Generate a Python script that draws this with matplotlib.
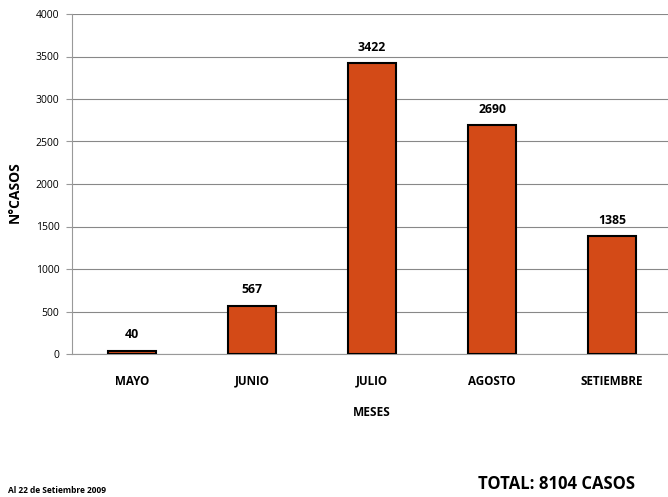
import matplotlib.pyplot as plt

months = ["MAYO", "JUNIO", "JULIO", "AGOSTO", "SETIEMBRE"]
cases = [40, 567, 3422, 2690, 1385]
yticks = [0, 500, 1000, 1500, 2000, 2500, 3000, 3500, 4000]

plt.rcParams['font.family'] = ['Open Sans', 'DejaVu Sans']

fig = plt.figure(figsize=(6.68, 4.97), dpi=100)
ax = fig.add_axes([72 / 668, 1 - 354 / 497, 600 / 668, 340 / 497])

x = range(len(months))
ax.bar(x, cases, width=0.4, color='#D34A17', edgecolor='black', linewidth=1.5, zorder=3)
for i, v in zip(x, cases):
    ax.text(i, v + 110, str(v), ha='center', va='bottom', fontsize=8.8, fontweight='bold')

ax.set_xlim(-0.5, 4.5)
ax.set_ylim(0, 4000)
ax.set_yticks(yticks)
ax.set_yticklabels([str(t) for t in yticks], fontsize=7.5)
ax.set_xticks(list(x))
ax.set_xticklabels(months, fontsize=8.4, fontweight='bold')
ax.tick_params(axis='x', length=0, pad=15)
ax.tick_params(axis='y', length=4, color='#999999', pad=5)
ax.grid(axis='y', color='#888888', linewidth=0.8, zorder=0)
for s in ['top', 'right']:
    ax.spines[s].set_visible(False)
ax.spines['left'].set_color('#999999')
ax.spines['bottom'].set_color('#999999')

ax.set_xlabel("MESES", fontsize=8.6, fontweight='bold', labelpad=13)
fig.text(15 / 668, 1 - 192 / 497, "N°CASOS", rotation=90, ha='center', va='center',
         fontsize=10, fontweight='bold')
fig.text(557 / 668, 1 - 484 / 497, "TOTAL: 8104 CASOS", ha='center', va='center',
         fontsize=12, fontweight='bold')
fig.text(8 / 668, 1 - 495 / 497, "Al 22 de Setiembre 2009", ha='left', va='bottom',
         fontsize=6, fontweight='bold')

fig.savefig("out.png", dpi=100)
